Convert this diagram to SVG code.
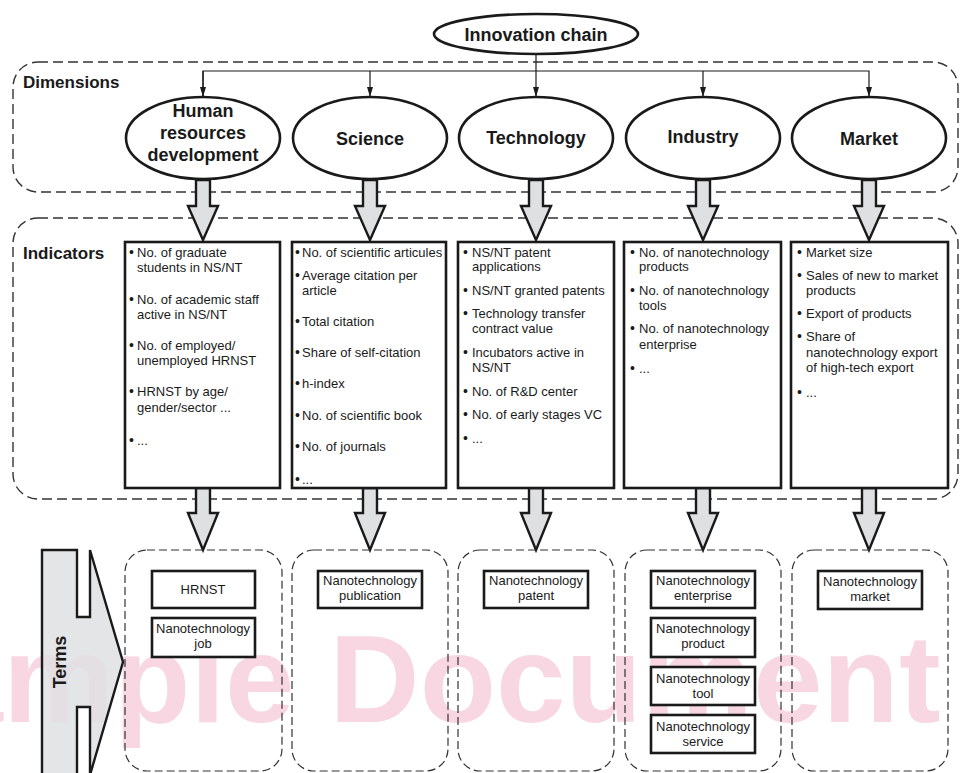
<svg xmlns="http://www.w3.org/2000/svg" width="961" height="773" viewBox="0 0 961 773">
<defs>
<style>
.bg{fill:#ffffff}
.wm{font-family:"Liberation Sans",Arial,sans-serif;font-weight:bold;font-size:125px;fill:#f8d7e2}
.zone{fill:none;stroke:#333;stroke-width:1.4;stroke-dasharray:10 5}
.tzone{fill:none;stroke:#333;stroke-width:1.2;stroke-dasharray:8 4}
.ell{fill:#fff;stroke:#1a1a1a;stroke-width:2.6}
.box{fill:#fff;stroke:#1a1a1a;stroke-width:2.6}
.bar{fill:#dfe0e2;stroke:#1a1a1a;stroke-width:2.4;stroke-linejoin:miter}
.bar2{fill:#dfe0e2;fill-opacity:0.85;stroke:#1a1a1a;stroke-width:2.4}
.lbl{font-family:"Liberation Sans",Arial,sans-serif;font-weight:bold;font-size:17px;fill:#1a1a1a}
.en{font-family:"Liberation Sans",Arial,sans-serif;font-weight:bold;font-size:18px;fill:#1a1a1a;text-anchor:middle}
.it{font-family:"Liberation Sans",Arial,sans-serif;font-size:13px;fill:#1a1a1a}
.bu{font-family:"Liberation Sans",Arial,sans-serif;font-size:14px;fill:#1a1a1a}
.tm{font-family:"Liberation Sans",Arial,sans-serif;font-size:13px;fill:#1a1a1a;text-anchor:middle}
.ln{fill:none;stroke:#1a1a1a;stroke-width:1.2}
</style>
<marker id="ah" viewBox="0 0 10 6" refX="10" refY="3" markerWidth="10" markerHeight="6" markerUnits="userSpaceOnUse" orient="auto">
<path d="M0,0 L10,3 L0,6 z" fill="#1a1a1a"/>
</marker>
<path id="dn1" d="M-7,0 L7,0 L7,26 L15,26 L0,60 L-15,26 L-7,26 Z"/>
<path id="dn2" d="M-7,0 L7,0 L7,25 L15,25 L0,62 L-15,25 L-7,25 Z"/>
</defs>
<rect class="bg" x="0" y="0" width="961" height="773"/>
<text class="wm" x="-150" y="722">Sample Document</text>

<g id="zones">
<rect id="zone-dimensions" class="zone" x="13" y="62" width="945" height="130" rx="25" ry="25"/>
<rect id="zone-indicators" class="zone" x="13" y="218" width="945" height="281" rx="25" ry="25"/>
<text class="lbl" x="23" y="88">Dimensions</text>
<text class="lbl" x="23" y="259">Indicators</text>
</g>

<g id="connectors">
<line class="ln" x1="536" y1="54" x2="536" y2="97" marker-end="url(#ah)"/>
<polyline class="ln" points="203,97 203,71 869,71 869,97" marker-end="url(#ah)"/>
<line class="ln" x1="203" y1="71" x2="203" y2="97" marker-end="url(#ah)"/>
<line class="ln" x1="370" y1="71" x2="370" y2="97" marker-end="url(#ah)"/>
<line class="ln" x1="703" y1="71" x2="703" y2="97" marker-end="url(#ah)"/>
<use href="#dn1" class="bar" x="203" y="180"/>
<use href="#dn1" class="bar" x="370" y="180"/>
<use href="#dn1" class="bar" x="536" y="180"/>
<use href="#dn1" class="bar" x="703" y="180"/>
<use href="#dn1" class="bar" x="869" y="180"/>
<use href="#dn2" class="bar" x="203" y="488"/>
<use href="#dn2" class="bar" x="370" y="488"/>
<use href="#dn2" class="bar" x="536" y="488"/>
<use href="#dn2" class="bar" x="703" y="488"/>
<use href="#dn2" class="bar" x="869" y="488"/>
</g>

<g id="innovation-chain">
<ellipse class="ell" cx="536" cy="34" rx="102" ry="20"/>
<text class="en" x="536" y="41">Innovation chain</text>
</g>

<g id="dim-hr">
<ellipse class="ell" cx="203" cy="138" rx="77" ry="41"/>
<text class="en" x="203" y="117">Human</text>
<text class="en" x="203" y="139">resources</text>
<text class="en" x="203" y="161">development</text>
</g>
<g id="dim-science">
<ellipse class="ell" cx="370" cy="138" rx="77" ry="41"/>
<text class="en" x="370" y="145">Science</text>
</g>
<g id="dim-technology">
<ellipse class="ell" cx="536" cy="138" rx="77" ry="41"/>
<text class="en" x="536" y="144">Technology</text>
</g>
<g id="dim-industry">
<ellipse class="ell" cx="703" cy="138" rx="77" ry="41"/>
<text class="en" x="703" y="143">Industry</text>
</g>
<g id="dim-market">
<ellipse class="ell" cx="869" cy="138" rx="77" ry="41"/>
<text class="en" x="869" y="145">Market</text>
</g>

<g id="ind-hr">
<rect class="box" x="125" y="242" width="155" height="246"/>
<text class="bu" x="129" y="257">•</text><text class="it" x="137" y="257">No. of graduate</text>
<text class="it" x="137" y="272">students in NS/NT</text>
<text class="bu" x="129" y="304">•</text><text class="it" x="137" y="304">No. of academic staff</text>
<text class="it" x="137" y="319">active in NS/NT</text>
<text class="bu" x="129" y="350">•</text><text class="it" x="137" y="350">No. of employed/</text>
<text class="it" x="137" y="365">unemployed HRNST</text>
<text class="bu" x="129" y="396">•</text><text class="it" x="137" y="396">HRNST by age/</text>
<text class="it" x="137" y="412">gender/sector ...</text>
<text class="bu" x="129" y="445">•</text><text class="it" x="137" y="445">...</text>
</g>
<g id="ind-science">
<rect class="box" x="292" y="242" width="154" height="246"/>
<text class="bu" x="295" y="257">•</text><text class="it" x="302" y="257">No. of scientific articules</text>
<text class="bu" x="295" y="280">•</text><text class="it" x="302" y="280">Average citation per</text>
<text class="it" x="302" y="295">article</text>
<text class="bu" x="295" y="326">•</text><text class="it" x="302" y="326">Total citation</text>
<text class="bu" x="295" y="357">•</text><text class="it" x="302" y="357">Share of self-citation</text>
<text class="bu" x="295" y="388">•</text><text class="it" x="302" y="388">h-index</text>
<text class="bu" x="295" y="420">•</text><text class="it" x="302" y="420">No. of scientific book</text>
<text class="bu" x="295" y="451">•</text><text class="it" x="302" y="451">No. of journals</text>
<text class="bu" x="295" y="484">•</text><text class="it" x="302" y="484">...</text>
</g>
<g id="ind-technology">
<rect class="box" x="458" y="242" width="156" height="246"/>
<text class="bu" x="463" y="257">•</text><text class="it" x="472" y="257">NS/NT patent</text>
<text class="it" x="472" y="271">applications</text>
<text class="bu" x="463" y="295">•</text><text class="it" x="472" y="295">NS/NT granted patents</text>
<text class="bu" x="463" y="318">•</text><text class="it" x="472" y="318">Technology transfer</text>
<text class="it" x="472" y="333">contract value</text>
<text class="bu" x="463" y="357">•</text><text class="it" x="472" y="357">Incubators active in</text>
<text class="it" x="472" y="372">NS/NT</text>
<text class="bu" x="463" y="396">•</text><text class="it" x="472" y="396">No. of R&amp;D center</text>
<text class="bu" x="463" y="419">•</text><text class="it" x="472" y="419">No. of early stages VC</text>
<text class="bu" x="463" y="443">•</text><text class="it" x="472" y="443">...</text>
</g>
<g id="ind-industry">
<rect class="box" x="624" y="242" width="157" height="246"/>
<text class="bu" x="630" y="257">•</text><text class="it" x="639" y="257">No. of nanotechnology</text>
<text class="it" x="639" y="271">products</text>
<text class="bu" x="630" y="295">•</text><text class="it" x="639" y="295">No. of nanotechnology</text>
<text class="it" x="639" y="310">tools</text>
<text class="bu" x="630" y="333">•</text><text class="it" x="639" y="333">No. of nanotechnology</text>
<text class="it" x="639" y="349">enterprise</text>
<text class="bu" x="630" y="373">•</text><text class="it" x="639" y="373">...</text>
</g>
<g id="ind-market">
<rect class="box" x="791" y="242" width="157" height="246"/>
<text class="bu" x="797" y="257">•</text><text class="it" x="806" y="257">Market size</text>
<text class="bu" x="797" y="280">•</text><text class="it" x="806" y="280">Sales of new to market</text>
<text class="it" x="806" y="295">products</text>
<text class="bu" x="797" y="318">•</text><text class="it" x="806" y="318">Export of products</text>
<text class="bu" x="797" y="341">•</text><text class="it" x="806" y="341">Share of</text>
<text class="it" x="806" y="357">nanotechnology export</text>
<text class="it" x="806" y="372">of high-tech export</text>
<text class="bu" x="797" y="397">•</text><text class="it" x="806" y="397">...</text>
</g>

<g id="terms-arrow">
<path class="bar2" d="M42,550 L77,550 L77,617 L90,617 L90,550 L123,662 L90,775 L90,707 L77,707 L77,775 L42,775 Z"/>
<text class="en" transform="translate(66,662) rotate(-90)" x="0" y="0">Terms</text>
</g>

<g id="terms-hr">
<rect class="tzone" x="125" y="550" width="157" height="221" rx="22" ry="22"/>
<rect class="box" x="152" y="571" width="103" height="37"/>
<text class="tm" x="203" y="594">HRNST</text>
<rect class="box" x="152" y="618" width="103" height="39"/>
<text class="tm" x="203" y="633">Nanotechnology</text>
<text class="tm" x="203" y="648">job</text>
</g>
<g id="terms-science">
<rect class="tzone" x="292" y="550" width="156" height="221" rx="22" ry="22"/>
<rect class="box" x="318" y="571" width="104" height="37"/>
<text class="tm" x="370" y="585">Nanotechnology</text>
<text class="tm" x="370" y="600">publication</text>
</g>
<g id="terms-technology">
<rect class="tzone" x="458" y="550" width="156" height="221" rx="22" ry="22"/>
<rect class="box" x="484" y="571" width="104" height="37"/>
<text class="tm" x="536" y="585">Nanotechnology</text>
<text class="tm" x="536" y="600">patent</text>
</g>
<g id="terms-industry">
<rect class="tzone" x="625" y="550" width="156" height="221" rx="22" ry="22"/>
<rect class="box" x="651" y="571" width="104" height="37"/>
<text class="tm" x="703" y="585">Nanotechnology</text>
<text class="tm" x="703" y="600">enterprise</text>
<rect class="box" x="651" y="618" width="104" height="39"/>
<text class="tm" x="703" y="633">Nanotechnology</text>
<text class="tm" x="703" y="648">product</text>
<rect class="box" x="651" y="667" width="104" height="38"/>
<text class="tm" x="703" y="683">Nanotechnology</text>
<text class="tm" x="703" y="698">tool</text>
<rect class="box" x="651" y="715" width="104" height="38"/>
<text class="tm" x="703" y="731">Nanotechnology</text>
<text class="tm" x="703" y="746">service</text>
</g>
<g id="terms-market">
<rect class="tzone" x="792" y="550" width="156" height="221" rx="22" ry="22"/>
<rect class="box" x="818" y="571" width="104" height="38"/>
<text class="tm" x="870" y="586">Nanotechnology</text>
<text class="tm" x="870" y="601">market</text>
</g>
</svg>
